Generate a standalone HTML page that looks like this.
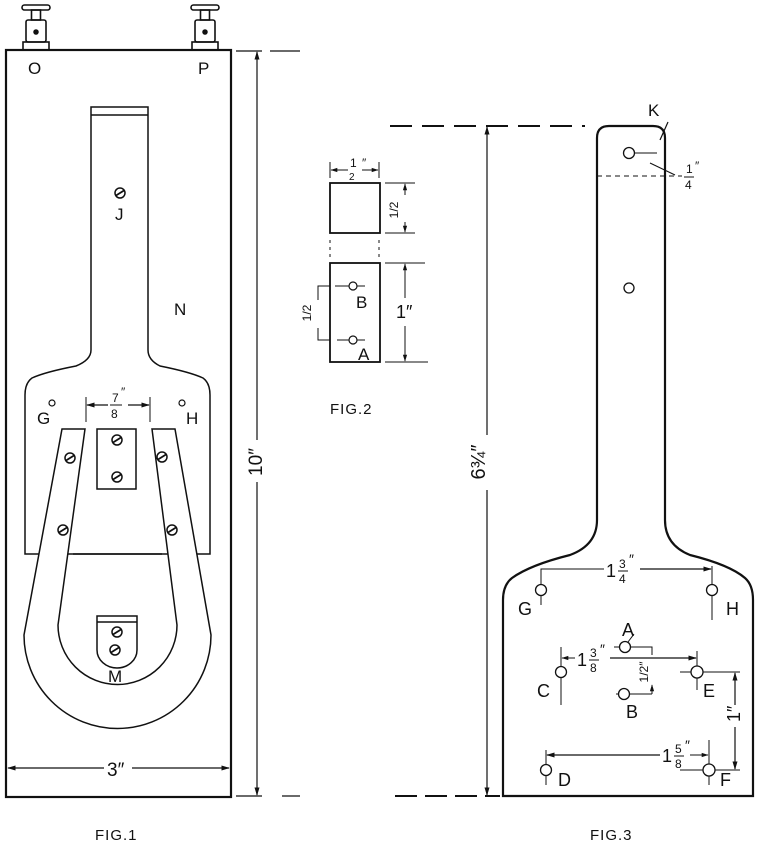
<!DOCTYPE html>
<html><head><meta charset="utf-8"><style>
html,body{margin:0;padding:0;background:#fff}
svg{display:block}
text{font-family:"Liberation Sans",sans-serif;fill:#111}
</style></head><body>
<svg width="759" height="847" viewBox="0 0 759 847" xmlns="http://www.w3.org/2000/svg">
<defs>
<marker id="ar" viewBox="0 0 10 10" refX="9" refY="5" markerWidth="7" markerHeight="7" orient="auto-start-reverse"><path d="M0,2 L10,5 L0,8 z" fill="#111"/></marker>
<g id="term">
<rect x="-14" y="5" width="28" height="5" rx="2.5" fill="none" stroke="#111" stroke-width="1.6"/>
<rect x="-4.5" y="10" width="9" height="10" fill="none" stroke="#111" stroke-width="1.6"/>
<rect x="-10" y="20" width="20" height="22" rx="2" fill="none" stroke="#111" stroke-width="1.6"/>
<rect x="-13" y="42" width="26" height="8" fill="none" stroke="#111" stroke-width="1.6"/>
<circle cx="0" cy="32" r="2" fill="#111"/>
</g>
<g id="scr"><circle r="5" fill="none" stroke="#111" stroke-width="1.5"/><line x1="-4" y1="2.5" x2="4" y2="-2.5" stroke="#111" stroke-width="1.8"/></g>
</defs>
<g fill="none" stroke="#111" stroke-width="1.5">
<!-- FIG 1 -->
<use href="#term" x="36" y="0"/>
<use href="#term" x="205" y="0"/>
<rect x="6" y="50" width="225" height="747" stroke-width="2.2"/>
<path d="M91,107 H148 V350 Q148,360 160,366 Q190,372 203,378 Q210,383 210,395 V554 H25 V395 Q25,383 32,378 Q45,372 76,366 Q91,360 91,350 Z"/>
<line x1="91" y1="115" x2="148" y2="115"/>
<!-- horseshoe -->
<path d="M62,429 H85 L58,625 A59.5,59.5 0 0 0 177,625 L152,429 H175 L211,635 A93.5,93.5 0 0 1 24,635 Z" fill="#fff"/>
<line x1="73" y1="554" x2="162" y2="554"/>
<rect x="97" y="429" width="39" height="60" fill="#fff"/>
<path d="M97,616 H137 V650 A20,18 0 0 1 97,650 Z"/>
<line x1="97" y1="622" x2="137" y2="622"/>
<!-- dims fig1 -->
<line x1="86" y1="397" x2="86" y2="422" stroke-width="1"/>
<line x1="150" y1="397" x2="150" y2="422" stroke-width="1"/>
<line x1="87" y1="405" x2="108" y2="405" marker-start="url(#ar)" stroke-width="1.2"/>
<line x1="128" y1="405" x2="149" y2="405" marker-end="url(#ar)" stroke-width="1.2"/>
<circle cx="52" cy="403" r="3" stroke-width="1.2"/>
<circle cx="182" cy="403" r="3" stroke-width="1.2"/>
<line x1="8" y1="768" x2="104" y2="768" marker-start="url(#ar)" stroke-width="1.2"/>
<line x1="132" y1="768" x2="229" y2="768" marker-end="url(#ar)" stroke-width="1.2"/>
<line x1="236" y1="51" x2="262" y2="51" stroke-width="1.2"/>
<line x1="270" y1="51" x2="300" y2="51" stroke-width="1.2"/>
<line x1="236" y1="796" x2="262" y2="796" stroke-width="1.2"/>
<line x1="282" y1="796" x2="300" y2="796" stroke-width="1.2"/>
<line x1="257" y1="52" x2="257" y2="440" marker-start="url(#ar)" stroke-width="1.2"/>
<line x1="257" y1="482" x2="257" y2="795" marker-end="url(#ar)" stroke-width="1.2"/>
<!-- FIG 2 -->
<rect x="330" y="183" width="50" height="50" stroke-width="1.8"/>
<rect x="330" y="263" width="50" height="99" stroke-width="1.8"/>
<line x1="330" y1="240" x2="330" y2="258" stroke-dasharray="3,4" stroke-width="1"/>
<line x1="379" y1="240" x2="379" y2="258" stroke-dasharray="3,4" stroke-width="1"/>
<line x1="330" y1="162" x2="330" y2="178" stroke-width="1"/>
<line x1="379" y1="162" x2="379" y2="178" stroke-width="1"/>
<line x1="331" y1="170" x2="348" y2="170" marker-start="url(#ar)" stroke-width="1"/>
<line x1="362" y1="170" x2="378" y2="170" marker-end="url(#ar)" stroke-width="1"/>
<line x1="385" y1="183" x2="415" y2="183" stroke-width="1"/>
<line x1="385" y1="233" x2="415" y2="233" stroke-width="1"/>
<line x1="405" y1="184" x2="405" y2="195" marker-start="url(#ar)" stroke-width="1"/>
<line x1="405" y1="222" x2="405" y2="232" marker-end="url(#ar)" stroke-width="1"/>
<line x1="385" y1="263" x2="425" y2="263" stroke-width="1"/>
<line x1="385" y1="362" x2="428" y2="362" stroke-width="1"/>
<line x1="405" y1="264" x2="405" y2="298" marker-start="url(#ar)" stroke-width="1"/>
<line x1="405" y1="326" x2="405" y2="361" marker-end="url(#ar)" stroke-width="1"/>
<line x1="335" y1="286" x2="365" y2="286" stroke-width="1"/>
<circle cx="353" cy="286" r="4" stroke-width="1.2" fill="#fff"/>
<line x1="337" y1="340" x2="365" y2="340" stroke-width="1"/>
<circle cx="353" cy="340" r="4" stroke-width="1.2" fill="#fff"/>
<polyline points="330,286 318,286 318,300" stroke-width="1"/>
<polyline points="330,340 318,340 318,328" stroke-width="1"/>
<!-- FIG 3 -->
<path d="M609,126 H653 Q665,126 665,138 V520 Q665,545 690,555 Q730,565 745,578 Q753,585 753,600 V796 H503 V600 Q503,585 512,578 Q530,565 570,555 Q597,545 597,520 V138 Q597,126 609,126 Z" stroke-width="2.2"/>
<line x1="390" y1="126" x2="585" y2="126" stroke-dasharray="22,10" stroke-width="2"/>
<line x1="395" y1="796" x2="500" y2="796" stroke-dasharray="22,8" stroke-width="2"/>
<line x1="487" y1="127" x2="487" y2="435" marker-start="url(#ar)" stroke-width="1.2"/>
<line x1="487" y1="490" x2="487" y2="795" marker-end="url(#ar)" stroke-width="1.2"/>
<line x1="660" y1="140" x2="668" y2="122" stroke-width="1.2"/>
<circle cx="629" cy="153" r="5.5" stroke-width="1.3"/>
<line x1="635" y1="153" x2="657" y2="153" stroke-width="1"/>
<line x1="597" y1="176" x2="682" y2="176" stroke-dasharray="5,4" stroke-width="1"/>
<line x1="650" y1="163" x2="675" y2="175" stroke-width="1"/>
<circle cx="629" cy="288" r="5" stroke-width="1.3"/>
<!-- G H -->
<polyline points="541,605 541,569 604,569" stroke-width="1"/>
<line x1="640" y1="569" x2="711" y2="569" marker-end="url(#ar)" stroke-width="1.2"/>
<line x1="712" y1="566" x2="712" y2="620" stroke-width="1"/>
<circle cx="541" cy="590" r="5.5" stroke-width="1.3" fill="#fff"/>
<circle cx="712" cy="590" r="5.5" stroke-width="1.3" fill="#fff"/>
<!-- C E A B -->
<line x1="561" y1="647" x2="561" y2="705" stroke-width="1"/>
<line x1="562" y1="658" x2="575" y2="658" marker-start="url(#ar)" stroke-width="1"/>
<line x1="610" y1="658" x2="696" y2="658" marker-end="url(#ar)" stroke-width="1.2"/>
<line x1="697" y1="651" x2="697" y2="690" stroke-width="1"/>
<line x1="680" y1="672" x2="740" y2="672" stroke-width="1"/>
<circle cx="561" cy="672" r="5.5" stroke-width="1.3" fill="#fff"/>
<circle cx="697" cy="672" r="6" stroke-width="1.3" fill="#fff"/>
<line x1="614" y1="647" x2="641" y2="647" stroke-width="1"/>
<polyline points="641,647 652,647 652,655" stroke-width="1"/>
<circle cx="625" cy="647" r="5.5" stroke-width="1.3" fill="#fff"/>
<line x1="628" y1="642" x2="634" y2="634" stroke-width="1"/>
<line x1="616" y1="694" x2="652" y2="694" stroke-width="1"/>
<line x1="652" y1="694" x2="652" y2="685" stroke-width="1" marker-end="url(#ar)"/>
<circle cx="624" cy="694" r="5.5" stroke-width="1.3" fill="#fff"/>
<line x1="735" y1="673" x2="735" y2="705" marker-start="url(#ar)" stroke-width="1.2"/>
<line x1="735" y1="727" x2="735" y2="769" marker-end="url(#ar)" stroke-width="1.2"/>
<!-- D F -->
<line x1="546" y1="750" x2="546" y2="785" stroke-width="1"/>
<line x1="547" y1="755" x2="660" y2="755" marker-start="url(#ar)" stroke-width="1.2"/>
<line x1="690" y1="755" x2="708" y2="755" marker-end="url(#ar)" stroke-width="1"/>
<line x1="709" y1="740" x2="709" y2="785" stroke-width="1"/>
<line x1="680" y1="770" x2="740" y2="770" stroke-width="1"/>
<circle cx="546" cy="770" r="5.5" stroke-width="1.3" fill="#fff"/>
<circle cx="709" cy="770" r="6" stroke-width="1.3" fill="#fff"/>
</g>
<!-- screws -->
<use href="#scr" x="120" y="193"/>
<use href="#scr" x="117" y="440"/>
<use href="#scr" x="117" y="477"/>
<use href="#scr" x="70" y="458"/>
<use href="#scr" x="162" y="457"/>
<use href="#scr" x="63" y="530"/>
<use href="#scr" x="172" y="530"/>
<use href="#scr" x="117" y="632"/>
<use href="#scr" x="115" y="650"/>
<!-- labels -->
<g font-size="17">
<text x="28" y="74">O</text>
<text x="198" y="74">P</text>
<text x="115" y="220">J</text>
<text x="174" y="315">N</text>
<text x="37" y="424">G</text>
<text x="186" y="424">H</text>
<text x="108" y="682">M</text>
<text x="107" y="776" font-size="19">3″</text>
<text transform="translate(262,462) rotate(-90)" font-size="19" text-anchor="middle">10″</text>
<text x="356" y="308">B</text>
<text x="358" y="360">A</text>
<text x="648" y="116">K</text>
<text x="518" y="615" font-size="18">G</text>
<text x="726" y="615" font-size="18">H</text>
<text x="622" y="636" font-size="18">A</text>
<text x="537" y="697" font-size="18">C</text>
<text x="703" y="697" font-size="18">E</text>
<text x="626" y="718" font-size="18">B</text>
<text x="558" y="786" font-size="18">D</text>
<text x="720" y="786" font-size="18">F</text>
</g>
<g font-size="12">
<text x="112" y="402">7</text><text x="111" y="418">8</text><text x="121" y="396">″</text>
<line x1="110" y1="405" x2="122" y2="405" stroke="#111"/>
<text x="350" y="167">1</text><text x="349" y="180" font-size="10">2</text><text x="362" y="167">″</text>
<text transform="translate(398,210) rotate(-90)" text-anchor="middle">1/2</text>
<text transform="translate(311,313) rotate(-90)" text-anchor="middle">1/2</text>
<text x="396" y="318" font-size="18">1″</text>
<text x="686" y="173">1</text><text x="685" y="189">4</text><text x="695" y="170">″</text>
<line x1="684" y1="177" x2="694" y2="177" stroke="#111"/>
<text x="606" y="577" font-size="18">1</text><text x="619" y="568">3</text><text x="619" y="583">4</text><text x="629" y="564" font-size="14">″</text>
<line x1="618" y1="571" x2="628" y2="571" stroke="#111"/>
<text x="577" y="666" font-size="18">1</text><text x="590" y="657">3</text><text x="590" y="672">8</text><text x="600" y="654" font-size="14">″</text>
<line x1="589" y1="660" x2="599" y2="660" stroke="#111"/>
<text transform="translate(648,672) rotate(-90)" text-anchor="middle">1/2″</text>
<text x="728" y="722" font-size="18" transform="rotate(-90 734 716)">1″</text>
<text x="662" y="762" font-size="18">1</text><text x="675" y="753">5</text><text x="675" y="768">8</text><text x="685" y="750" font-size="14">″</text>
<line x1="674" y1="756" x2="684" y2="756" stroke="#111"/>
</g>
<text transform="translate(485,462) rotate(-90)" font-size="20" text-anchor="middle">6¾″</text>
<g font-size="15" letter-spacing="1">
<text x="95" y="840">FIG.1</text>
<text x="330" y="414">FIG.2</text>
<text x="590" y="840">FIG.3</text>
</g>
</svg>
</body></html>
